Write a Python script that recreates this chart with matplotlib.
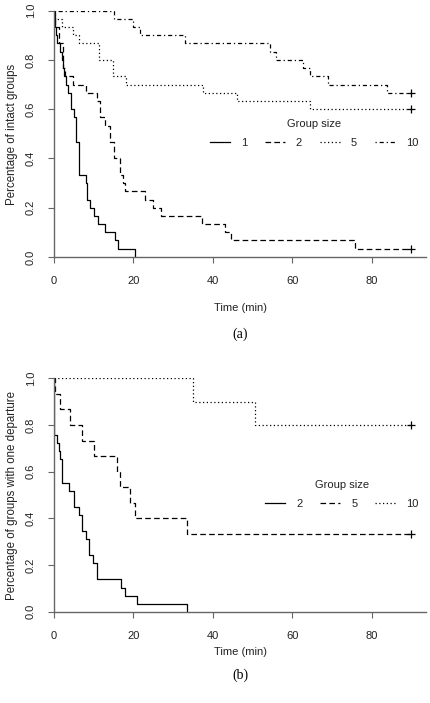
import matplotlib
matplotlib.use("Agg")
import matplotlib.pyplot as plt
from matplotlib.lines import Line2D

plt.rcParams['font.family'] = ['Liberation Sans', 'DejaVu Sans']

W, H = 430, 703

# ---------------- data: panel (a) -----------------
a_groups = ["1", "2", "5", "10"]
a1_t = [0.2, 0.3, 0.5, 0.84, 1.5, 1.9, 2.35, 2.5, 3.0, 3.5, 4.2, 5.0, 5.5, 6.3, 8.1, 8.4, 9.1, 10.2, 11.2, 12.9, 15.4, 16.2, 20.4]
a1_s = [0.967, 0.933, 0.9, 0.867, 0.833, 0.8, 0.767, 0.733, 0.7, 0.667, 0.6, 0.567, 0.467, 0.333, 0.3, 0.233, 0.2, 0.167, 0.133, 0.1, 0.067, 0.033, 0.0]
a2_t = [0.1, 0.3, 1.2, 2.2, 2.8, 4.7, 8.0, 10.9, 11.5, 12.8, 14.2, 15.0, 16.5, 17.5, 18.0, 23.0, 25.0, 27.0, 37.4, 43.0, 44.5, 75.8]
a2_s = [0.967, 0.933, 0.867, 0.767, 0.733, 0.7, 0.667, 0.633, 0.567, 0.533, 0.467, 0.4, 0.333, 0.3, 0.267, 0.233, 0.2, 0.167, 0.133, 0.1, 0.067, 0.033]
a5_t = [0.3, 2.1, 4.9, 6.4, 11.4, 14.8, 18.2, 37.6, 46.0, 64.5]
a5_s = [0.967, 0.933, 0.9, 0.867, 0.8, 0.733, 0.7, 0.667, 0.633, 0.6]
a10_t = [15.0, 20.0, 21.7, 33.0, 54.4, 56.0, 62.7, 64.5, 69.0, 84.0]
a10_s = [0.967, 0.933, 0.9, 0.867, 0.833, 0.8, 0.767, 0.733, 0.7, 0.667]

# ---------------- data: panel (b) -----------------
b_groups = ["2", "5", "10"]
b2_t = [0.1, 0.67, 1.18, 1.5, 2.0, 3.8, 5.0, 6.2, 7.1, 8.0, 8.8, 9.9, 10.8, 16.9, 17.8, 20.8, 33.6]
b2_s = [0.759, 0.724, 0.690, 0.655, 0.552, 0.517, 0.448, 0.414, 0.345, 0.310, 0.241, 0.207, 0.138, 0.103, 0.069, 0.034, 0.0]
b5_t = [0.25, 1.5, 4.0, 7.0, 10.2, 15.8, 16.6, 19.2, 20.3, 33.6]
b5_s = [0.933, 0.867, 0.8, 0.733, 0.667, 0.6, 0.533, 0.467, 0.4, 0.333]
b10_t = [35.1, 50.6]
b10_s = [0.9, 0.8]

end_time = 90.0
xticks = [0, 20, 40, 60, 80]
yticks = [0.0, 0.2, 0.4, 0.6, 0.8, 1.0]

LW = 0.9
styles = {
    'solid': '-',
    'dashed': (0, (4.5, 2.6)),
    'dotted': (0, (1.0, 2.0)),
    'dashdot': (0, (1.0, 2.3, 3.3, 2.3)),
}
SPINE = '#666666'
TXT = '#222222'


def fbox(l, t, r, b):
    return [l / W, 1 - b / H, (r - l) / W, (b - t) / H]


def survival(ax, t, s, ls):
    xs = [0.0] + list(t)
    ys = [1.0] + list(s)
    censored = s[-1] > 0
    if censored:
        xs.append(end_time)
        ys.append(s[-1])
    ax.step(xs, ys, where='post', color='black', lw=LW, linestyle=ls)
    if censored:
        ax.plot([end_time], [s[-1]], marker='+', color='black', ms=6, mew=0.9, linestyle='none')


def style_axes(ax):
    ax.set_xlim(0, 93.7)
    ax.set_ylim(0, 1.0)
    for sp in ['top', 'right']:
        ax.spines[sp].set_visible(False)
    for sp in ['left', 'bottom']:
        ax.spines[sp].set_color(SPINE)
        ax.spines[sp].set_linewidth(1.0)
    ax.set_xticks(xticks)
    ax.set_xticklabels([str(v) for v in xticks])
    ax.set_yticks(yticks)
    ax.set_yticklabels([f"{v:.1f}" for v in yticks], rotation=90, va='center')
    ax.tick_params(axis='both', colors=SPINE, labelcolor=TXT, labelsize=8,
                   length=4, width=0.8, direction='out')
    ax.tick_params(axis='x', pad=10)
    ax.tick_params(axis='y', pad=9)


def legend(ax, labels, lstyles, cx, cy):
    handles = [Line2D([], [], color='black', lw=LW, linestyle=styles[k]) for k in lstyles]
    leg = ax.legend(handles, labels, title='Group size', ncol=len(labels), frameon=False,
                    loc='center', bbox_to_anchor=(cx / W, 1 - cy / H),
                    bbox_transform=fig.transFigure, fontsize=8, title_fontsize=8,
                    handlelength=1.8, handletextpad=1.0, columnspacing=1.6,
                    borderpad=0, labelspacing=0.75)
    for tx in leg.get_texts():
        tx.set_color(TXT)
    leg.get_title().set_color(TXT)


fig = plt.figure(figsize=(W / 100, H / 100), dpi=100)

# ---- panel (a)
ax1 = fig.add_axes(fbox(54, 10.7, 426, 257))
style_axes(ax1)
survival(ax1, a1_t, a1_s, styles['solid'])
survival(ax1, a2_t, a2_s, styles['dashed'])
survival(ax1, a5_t, a5_s, styles['dotted'])
survival(ax1, a10_t, a10_s, styles['dashdot'])
legend(ax1, a_groups, ['solid', 'dashed', 'dotted', 'dashdot'], 314, 133.5)
fig.text(12 / W, 1 - 134 / H, 'Percentage of intact groups', rotation=90,
         ha='center', va='center', fontsize=8.3, color=TXT)
fig.text(240 / W, 1 - 308 / H, 'Time (min)', ha='center', va='center', fontsize=8, color=TXT)
fig.text(240 / W, 1 - 334 / H, '(a)', ha='center', va='center', fontsize=10,
         family=['Liberation Serif', 'DejaVu Serif'], color='black')

# ---- panel (b)
ax2 = fig.add_axes(fbox(54, 378.3, 426, 611.7))
style_axes(ax2)
survival(ax2, b2_t, b2_s, styles['solid'])
survival(ax2, b5_t, b5_s, styles['dashed'])
survival(ax2, b10_t, b10_s, styles['dotted'])
legend(ax2, b_groups, ['solid', 'dashed', 'dotted'], 342, 494.5)
fig.text(12 / W, 1 - 495 / H, 'Percentage of groups with one departure', rotation=90,
         ha='center', va='center', fontsize=8.3, color=TXT)
fig.text(240 / W, 1 - 652 / H, 'Time (min)', ha='center', va='center', fontsize=8, color=TXT)
fig.text(240 / W, 1 - 675 / H, '(b)', ha='center', va='center', fontsize=10,
         family=['Liberation Serif', 'DejaVu Serif'], color='black')

fig.savefig('out.png', dpi=100, facecolor='white')
